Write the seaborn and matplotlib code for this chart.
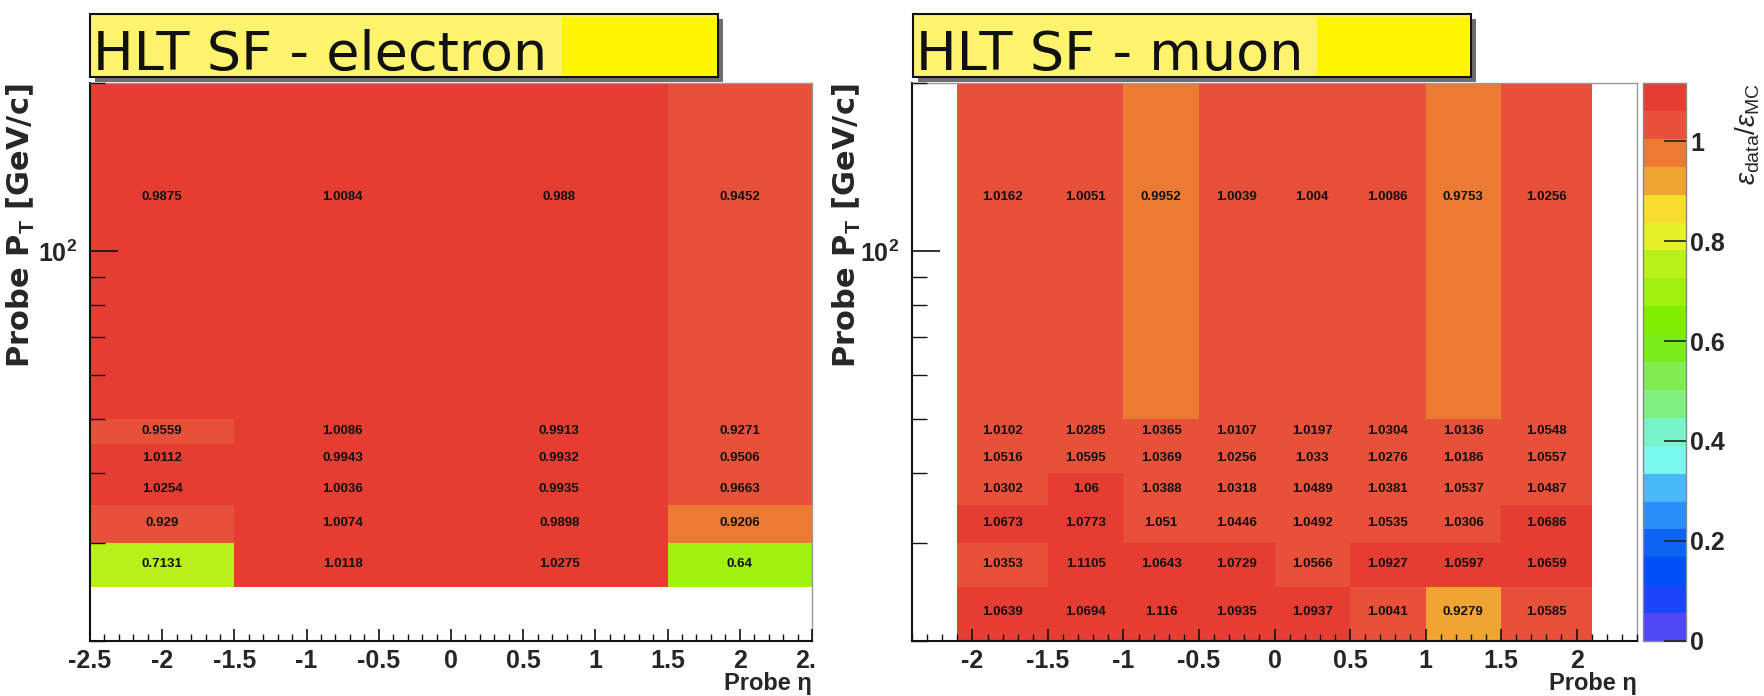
import numpy as np
import pandas as pd
import matplotlib
matplotlib.use("Agg")
import matplotlib.pyplot as plt
import matplotlib.ticker as mticker
from matplotlib.colors import ListedColormap, Normalize
from matplotlib.patches import Rectangle
from matplotlib.cm import ScalarMappable
from matplotlib.transforms import Bbox
import seaborn as sns

sns.set_theme(style="white")
plt.rcParams["font.family"] = ["Liberation Sans", "DejaVu Sans"]
plt.rcParams["mathtext.fontset"] = "custom"
plt.rcParams["mathtext.rm"] = "Liberation Sans"
plt.rcParams["mathtext.bf"] = "Liberation Sans:bold"
plt.rcParams["mathtext.it"] = "Liberation Sans:italic"

# ---- binning -------------------------------------------------------------
ele_eta_edges = [-2.5, -1.5, 0.0, 1.5, 2.5]
ele_pt_edges = [25, 30, 35, 40, 45, 50, 200]
mu_eta_edges = [-2.1, -1.5, -1.0, -0.5, 0.0, 0.5, 1.0, 1.5, 2.1]
mu_pt_edges = [20, 25, 30, 35, 40, 45, 50, 200]

# ---- HLT scale factors (rows: pT bins from low to high) --------------------
ele_sf = [
    [0.7131, 1.0118, 1.0275, 0.64],     # 25-30
    [0.929, 1.0074, 0.9898, 0.9206],    # 30-35
    [1.0254, 1.0036, 0.9935, 0.9663],   # 35-40
    [1.0112, 0.9943, 0.9932, 0.9506],   # 40-45
    [0.9559, 1.0086, 0.9913, 0.9271],   # 45-50
    [0.9875, 1.0084, 0.988, 0.9452],    # 50-200
]
mu_sf = [
    [1.0639, 1.0694, 1.116, 1.0935, 1.0937, 1.0041, 0.9279, 1.0585],   # 20-25
    [1.0353, 1.1105, 1.0643, 1.0729, 1.0566, 1.0927, 1.0597, 1.0659],  # 25-30
    [1.0673, 1.0773, 1.051, 1.0446, 1.0492, 1.0535, 1.0306, 1.0686],   # 30-35
    [1.0302, 1.06, 1.0388, 1.0318, 1.0489, 1.0381, 1.0537, 1.0487],    # 35-40
    [1.0516, 1.0595, 1.0369, 1.0256, 1.033, 1.0276, 1.0186, 1.0557],   # 40-45
    [1.0102, 1.0285, 1.0365, 1.0107, 1.0197, 1.0304, 1.0136, 1.0548],  # 45-50
    [1.0162, 1.0051, 0.9952, 1.0039, 1.004, 1.0086, 0.9753, 1.0256],   # 50-200
]

titles = ["HLT SF - electron", "HLT SF - muon"]
cbar_ticks = [0, 0.2, 0.4, 0.6, 0.8, 1]

# 20-level rainbow palette, low to high
palette = ["#5048f5", "#1c44f8", "#0050f8", "#0c64f2", "#2890f8",
           "#48b8f8", "#78f8f0", "#78f5c8", "#80f080", "#80ec50",
           "#7aec1c", "#80ee00", "#a0f010", "#b8f01a", "#e6f028",
           "#f8dc30", "#f0a532", "#ed7a32", "#e8503a", "#e63d33"]
root_cmap = ListedColormap(palette)
NLEV = len(palette)

W, H = 1764, 696
fig = plt.figure(figsize=(W / 100, H / 100), dpi=100)
fig.patch.set_facecolor("white")


def frac_box(x0, y0, x1, y1):
    """Pixel box (top-left origin) -> figure fraction rect."""
    return [x0 / W, 1 - y1 / H, (x1 - x0) / W, (y1 - y0) / H]


axL = fig.add_axes(frac_box(90, 83, 812, 641))
axR = fig.add_axes(frac_box(912, 83, 1637, 641))
cax = fig.add_axes(frac_box(1643, 83, 1686, 641))

TICK_FS = 18
LABEL_FS = 17


def draw_panel(ax, eta_edges, pt_edges, sf, xlim):
    eta_edges = np.asarray(eta_edges, float)
    pt_edges = np.asarray(pt_edges, float)
    sf = np.asarray(sf, float)
    zmax = sf.max()
    eta_c = 0.5 * (eta_edges[:-1] + eta_edges[1:])
    pt_c = 0.5 * (pt_edges[:-1] + pt_edges[1:])
    E, P = np.meshgrid(eta_c, pt_c)
    df = pd.DataFrame({"eta": E.ravel(), "pt": P.ravel(), "sf": sf.ravel()})
    # a cell goes to contour int(0.01 + NLEV*z/zmax), as in ROOT's COLZ
    off = 0.01 / NLEV * zmax
    sns.histplot(data=df, x="eta", y="pt", weights="sf",
                 bins=[eta_edges, np.log10(pt_edges)],
                 log_scale=(False, True), cmap=root_cmap,
                 vmin=-off, vmax=zmax - off, cbar=False, ax=ax)
    for e, p, v in zip(df["eta"], df["pt"], df["sf"]):
        ax.text(e, p, f"{v:.5g}", ha="center", va="center", fontsize=9.5,
                fontweight="bold", color="#111111")

    ax.set_axisbelow(False)
    ax.set_xlim(*xlim)
    ax.set_ylim(20, 200)
    ax.set_facecolor("white")
    ax.xaxis.set_major_locator(mticker.MultipleLocator(0.5))
    ax.xaxis.set_minor_locator(mticker.MultipleLocator(0.1))
    ax.xaxis.set_major_formatter(mticker.FuncFormatter(lambda v, p: f"{v:g}"))
    ax.yaxis.set_major_locator(mticker.FixedLocator([100]))
    ax.yaxis.set_minor_locator(mticker.FixedLocator([20, 30, 40, 50, 60, 70, 80, 90, 200]))
    ax.yaxis.set_major_formatter(mticker.FixedFormatter([r"$\mathbf{10^{2}}$"]))
    ax.yaxis.set_minor_formatter(mticker.NullFormatter())
    ax.tick_params(axis="both", which="both", direction="in", color="#111111",
                   top=False, right=False, bottom=True, left=True)
    ax.tick_params(axis="x", which="major", length=9, width=1.2, labelsize=TICK_FS, pad=6)
    ax.tick_params(axis="x", which="minor", length=5, width=1.0)
    ax.tick_params(axis="y", which="major", length=20, width=1.2, labelsize=18, pad=9)
    ax.tick_params(axis="y", which="minor", length=11, width=1.0)
    for lab in ax.get_xticklabels() + ax.get_yticklabels():
        lab.set_fontweight("bold")
    for s in ("left", "bottom"):
        ax.spines[s].set_color("#111111")
        ax.spines[s].set_linewidth(1.5)
    for s in ("top", "right"):
        ax.spines[s].set_color("#999999")
        ax.spines[s].set_linewidth(1.0)
    ax.set_xlabel("Probe η", fontsize=LABEL_FS, fontweight="bold", loc="right")
    ax.set_ylabel(r"Probe P$_\mathbf{T}$ [GeV/c]", fontsize=22,
                  fontweight="bold", loc="top", family="DejaVu Sans")
    ax.grid(False)
    return zmax


draw_panel(axL, ele_eta_edges, ele_pt_edges, ele_sf, (-2.5, 2.5))
zmax_mu = draw_panel(axR, mu_eta_edges, mu_pt_edges, mu_sf, (-2.4, 2.4))
axL.xaxis.set_label_coords(1.0, -0.055)
axR.xaxis.set_label_coords(1.0, -0.055)
axL.yaxis.set_label_coords(-0.074, 1.0)
axR.yaxis.set_label_coords(-0.067, 1.0)

# colour scale of the muon map
sm = ScalarMappable(norm=Normalize(0, zmax_mu), cmap=root_cmap)
cb = fig.colorbar(sm, cax=cax, ticks=cbar_ticks)
cb.outline.set_edgecolor("#888888")
cb.outline.set_linewidth(1.0)
cax.set_axisbelow(False)
cax.yaxis.set_ticks_position("right")
cax.tick_params(direction="in", length=16, width=1.2, color="#222222",
                labelsize=TICK_FS, pad=3)
cax.yaxis.set_major_formatter(mticker.FuncFormatter(lambda v, p: f"{v:g}"))
for lab in cax.get_yticklabels():
    lab.set_fontweight("bold")
cax.set_ylabel(r"$\epsilon_{\mathregular{data}}/\epsilon_{\mathregular{MC}}$",
               fontsize=20, loc="top", labelpad=6)

# last electron tick label runs into the neighbouring panel and is cut there
fig.canvas.draw()
cut = Bbox.from_extents(0, 0, 815, H)
for t in axL.xaxis.get_major_ticks():
    t.label1.set_clip_box(cut)
    t.label1.set_clip_on(True)

# title boxes
for (x0, x1, xh), txt in zip([(90, 718, 562), (913, 1471, 1317)], titles):
    y0, y1 = 14, 77
    fig.patches.append(Rectangle(((x0 + 5) / W, 1 - (y1 + 5) / H), (x1 - x0) / W,
                                 (y1 - y0) / H, transform=fig.transFigure,
                                 facecolor="#6e6e6e", edgecolor="none", zorder=3))
    fig.patches.append(Rectangle((x0 / W, 1 - y1 / H), (x1 - x0) / W, (y1 - y0) / H,
                                 transform=fig.transFigure, facecolor="#fdf36c",
                                 edgecolor="#111111", linewidth=1.5, zorder=4))
    fig.patches.append(Rectangle((xh / W, 1 - (y1 - 1) / H), (x1 - 1 - xh) / W,
                                 (y1 - y0 - 4) / H, transform=fig.transFigure,
                                 facecolor="#fff500", edgecolor="none", zorder=5))
    fig.text((x0 + 3) / W, 1 - 70 / H, txt, fontsize=39, va="baseline", ha="left",
             color="#111111", zorder=6, family="DejaVu Sans")

fig.savefig("out.png", dpi=100, facecolor="white")
